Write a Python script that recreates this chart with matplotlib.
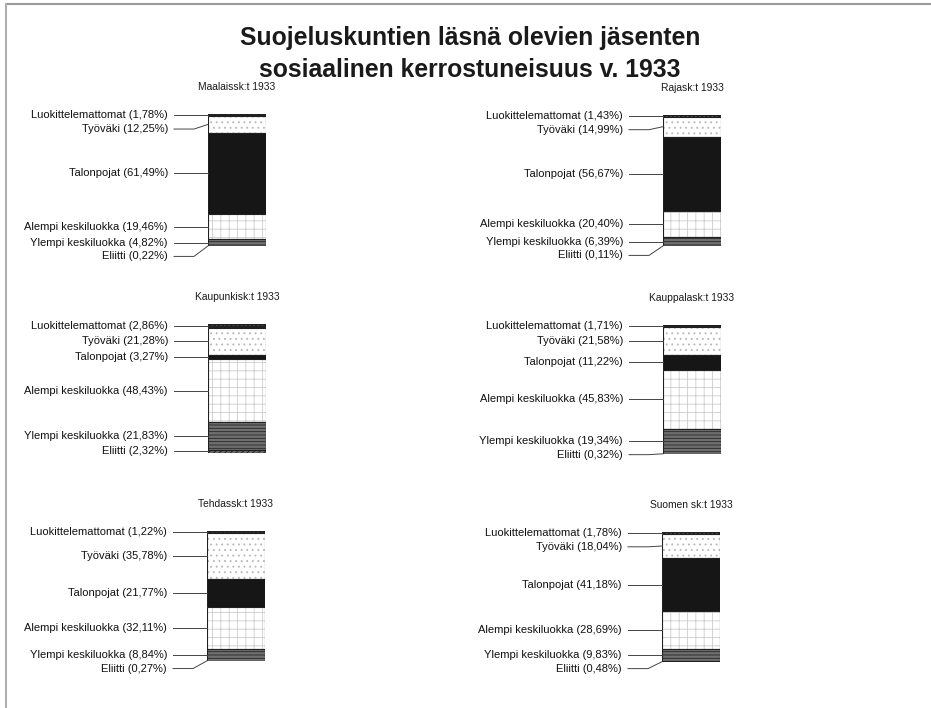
import numpy as np
import matplotlib
matplotlib.use("Agg")
import matplotlib.pyplot as plt
from matplotlib.lines import Line2D

plt.rcParams['font.family'] = ['Liberation Sans', 'DejaVu Sans']
plt.rcParams['hatch.linewidth'] = 0.6

# data (percent), stacked from the top of each bar
categories = ["Luokittelemattomat", "Työväki", "Talonpojat",
              "Alempi keskiluokka", "Ylempi keskiluokka", "Eliitti"]
panel_titles = ["Maalaissk:t 1933", "Rajask:t 1933",
                "Kaupunkisk:t 1933", "Kauppalask:t 1933",
                "Tehdassk:t 1933", "Suomen sk:t 1933"]
maalais = [1.78, 12.25, 61.49, 19.46, 4.82, 0.22]
raja = [1.43, 14.99, 56.67, 20.40, 6.39, 0.11]
kaupunki = [2.86, 21.28, 3.27, 48.43, 21.83, 2.32]
kauppala = [1.71, 21.58, 11.22, 45.83, 19.34, 0.32]
tehdas = [1.22, 35.78, 21.77, 32.11, 8.84, 0.27]
suomi = [1.78, 18.04, 41.18, 28.69, 9.83, 0.48]
panel_values = [maalais, raja, kaupunki, kauppala, tehdas, suomi]

# segment styles: facecolor, hatch, hatch colour
styles = [
    ("#232323", "....", "#555555"),
    ("#ffffff", "...", "#b5b5b5"),
    ("#161616", None, "#161616"),
    ("#ffffff", "++", "#cccccc"),
    ("#6f6f6f", "-----", "#262626"),
    ("#6a6a6a", "//////", "#1a1a1a"),
]

W, H = 931, 708
fig = plt.figure(figsize=(W / 100, H / 100), dpi=100)
fig.patch.set_facecolor("white")

# scanned page frame
fig.add_artist(Line2D([6 / W, 1], [1 - 4 / H, 1 - 4 / H], color="#9a9a9a", lw=1.5))
fig.add_artist(Line2D([6 / W, 6 / W], [0, 1 - 4 / H], color="#b0b0b0", lw=1.5))

fig.text(470 / W, 1 - 38 / H, "Suojeluskuntien läsnä olevien jäsenten",
         ha="center", va="center", fontsize=17.8, fontweight="bold", color="#1a1a1a")
fig.text(470 / W, 1 - 70 / H, "sosiaalinen kerrostuneisuus v. 1933",
         ha="center", va="center", fontsize=17.8, fontweight="bold", color="#1a1a1a")

# bar boxes in pixels: left, top, bottom
boxes = [(208, 114, 246), (663, 115, 246),
         (208, 324, 453), (663, 325, 454),
         (207, 531, 661), (662, 532, 662)]
bar_w = 58
min_gap = 10.5  # percent between label rows

for (left, top, bottom), vals, title in zip(boxes, panel_values, panel_titles):
    hgt = bottom - top
    ax = fig.add_axes([left / W, 1 - bottom / H, bar_w / W, hgt / H])
    ax.set_xlim(0, 1)
    ax.set_ylim(100, 0)
    ax.axis("off")

    vals = np.array(vals)
    starts = np.concatenate([[0], np.cumsum(vals)[:-1]])
    for v, s, (fc, hatch, hc) in zip(vals, starts, styles):
        ax.bar(0, v, bottom=s, width=1, align="edge", color=fc,
               hatch=hatch, edgecolor=hc, linewidth=0)
        ax.bar(0, v, bottom=s, width=1, align="edge", fill=False,
               edgecolor="#202020", linewidth=0.8)

    # label rows, pushed apart when segments are thin
    centers = starts + vals / 2
    label_y = []
    for c in centers:
        y = c if not label_y else max(c, label_y[-1] + min_gap)
        label_y.append(y)

    for cat, v, c, ly in zip(categories, vals, centers, label_y):
        txt = f"{cat} ({v:.2f}%)".replace(".", ",")
        ax.text(-40 / bar_w, ly, txt, ha="right", va="center",
                fontsize=8.0, color="#111111", clip_on=False)
        ax.plot([-34 / bar_w, -14 / bar_w, 0], [ly, ly, c],
                color="#444444", lw=0.7, clip_on=False)

    ax.annotate(title, xy=(0.5, 1), xycoords="axes fraction",
                xytext=(0, 27), textcoords="offset pixels",
                ha="center", va="center", fontsize=7.4, color="#1a1a1a")

fig.savefig("out.png", dpi=100, facecolor="white")
